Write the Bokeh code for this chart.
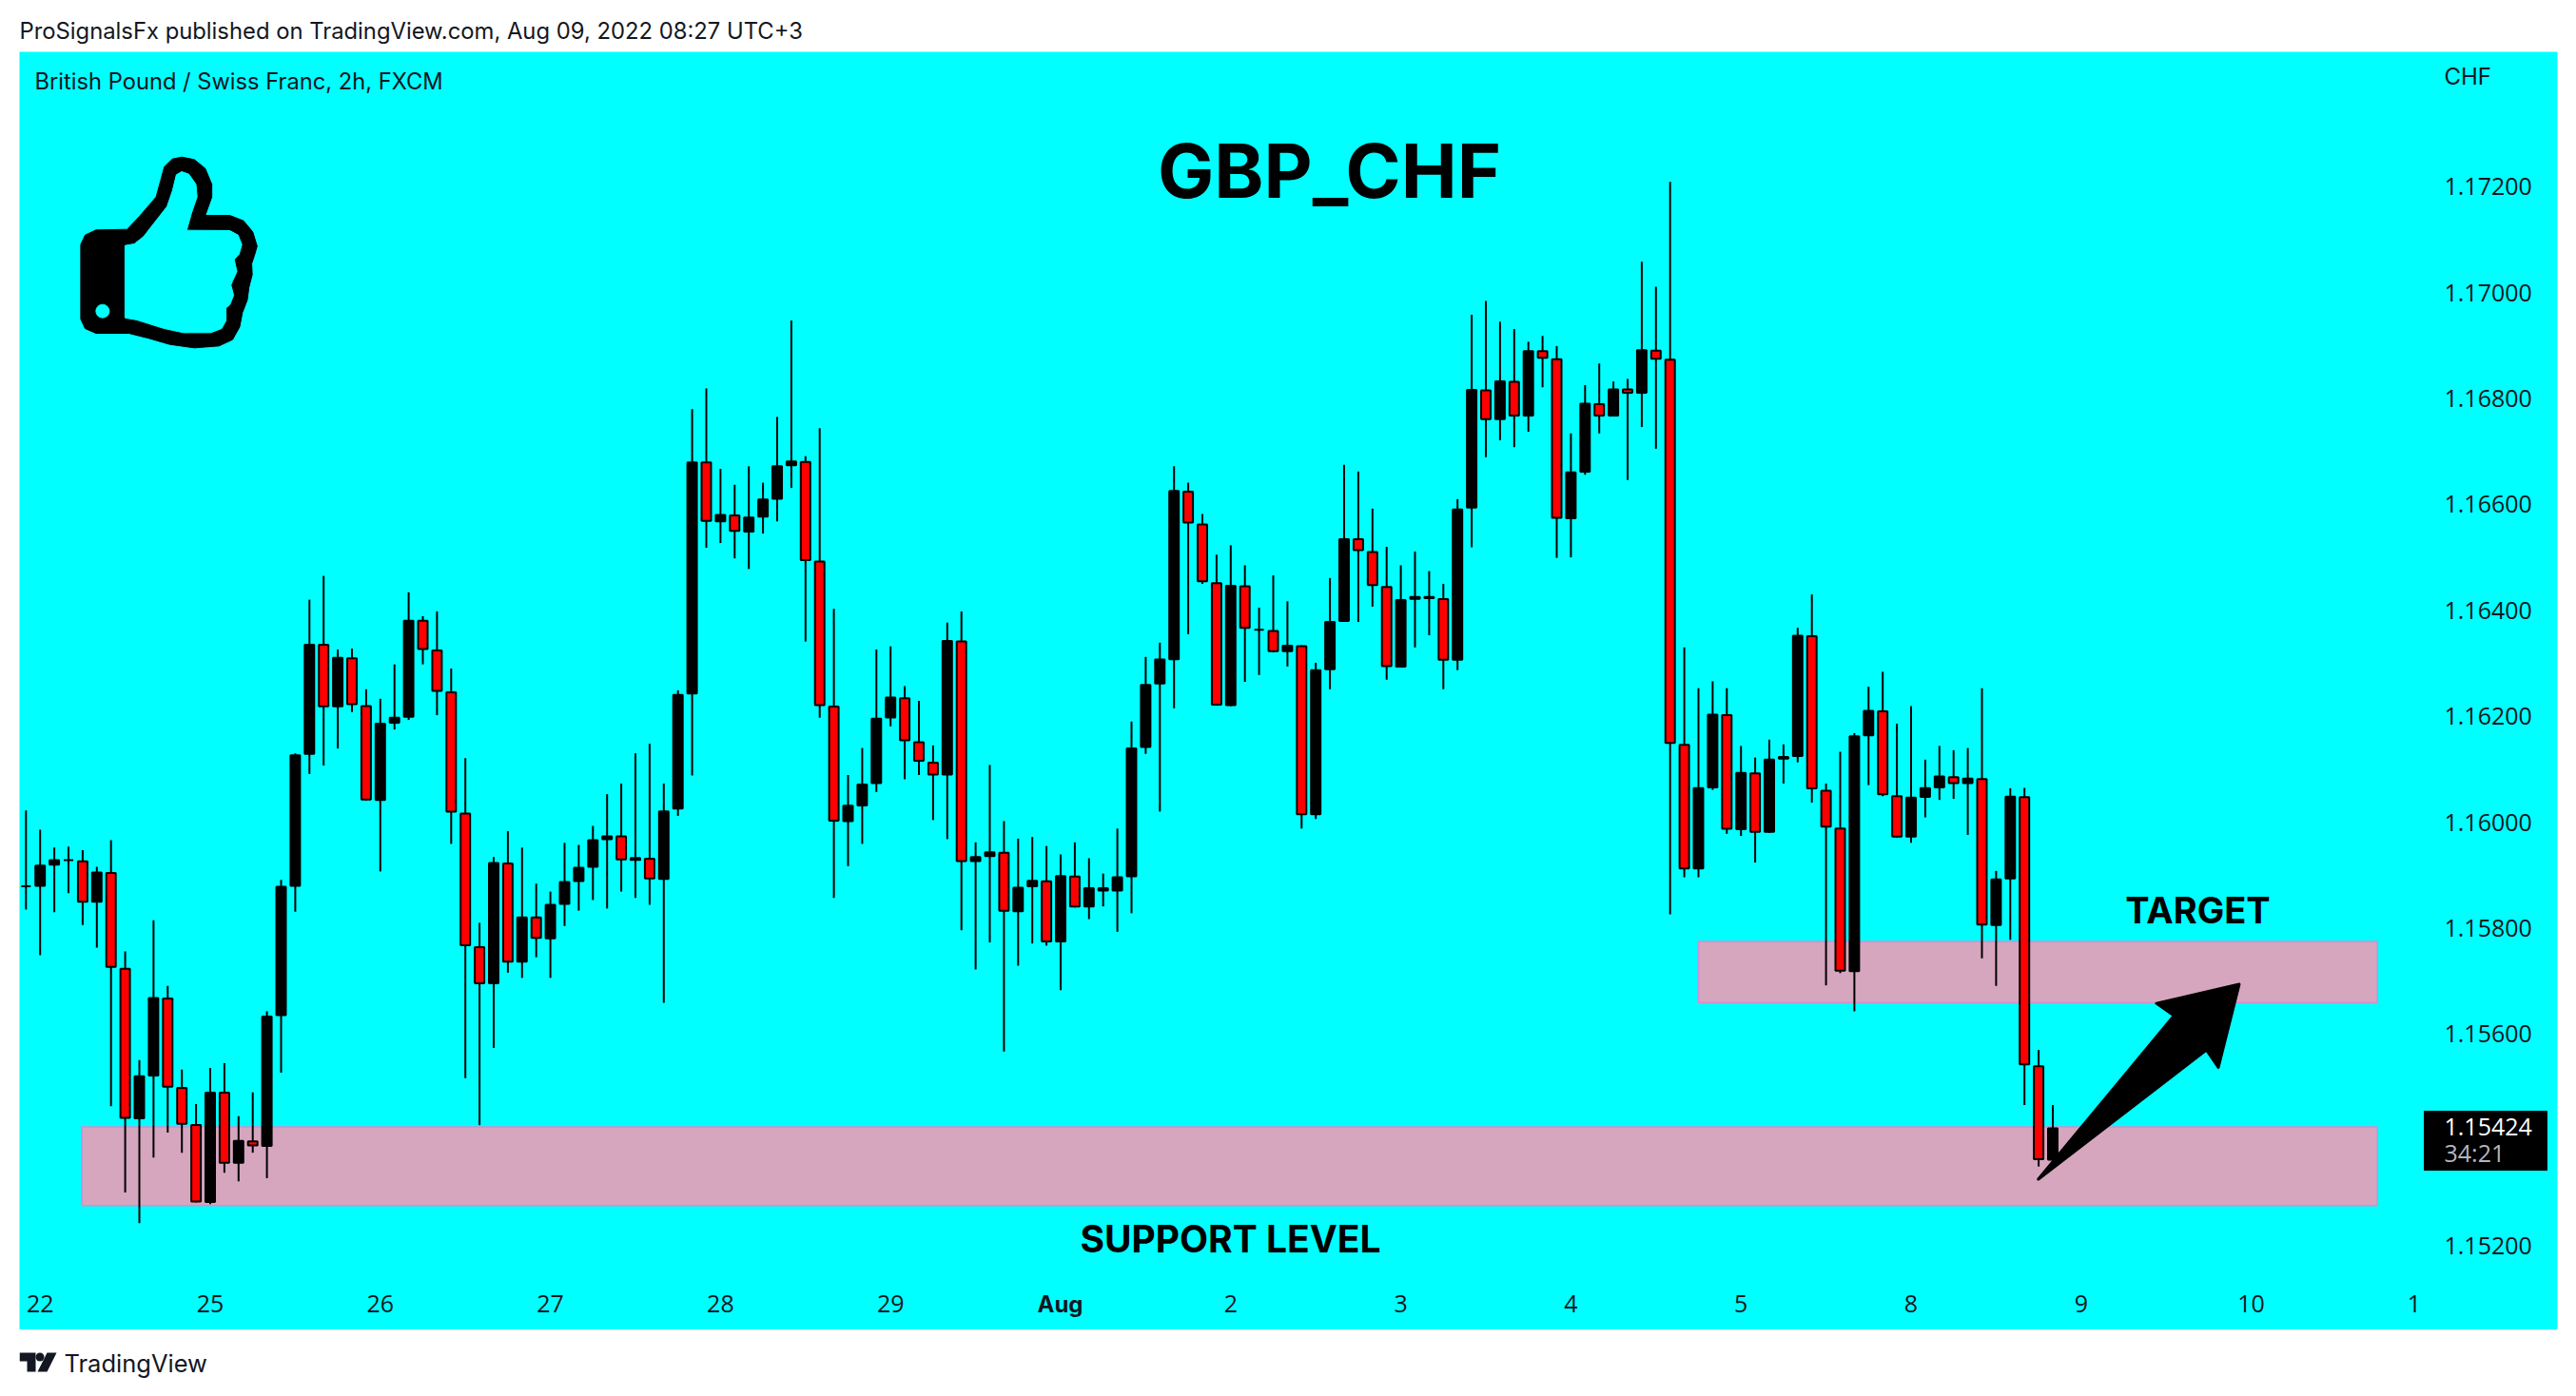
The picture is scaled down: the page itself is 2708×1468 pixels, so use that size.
from bokeh.plotting import figure
from bokeh.models import Range1d, FixedTicker, Label
from bokeh.layouts import column
from bokeh.embed import file_html
from bokeh.resources import INLINE
import numpy as np

highs = [1.16022,1.15986,1.15952,1.15954,1.15947,1.15916,1.15966,1.15756,1.15551,1.15815,1.15691,1.15533,
1.15468,1.15536,1.15545,1.15445,1.15490,1.15643,1.15891,1.16130,1.16420,1.16465,1.16326,1.16328,
1.16251,1.16233,1.16298,1.16434,1.16389,1.16398,1.16290,1.16121,1.15810,1.15934,1.15983,1.15952,
1.15884,1.15869,1.15961,1.15957,1.15993,1.16053,1.16073,1.16130,1.16148,1.16073,1.16249,1.16780,
1.16819,1.16667,1.16637,1.16672,1.16641,1.16765,1.16947,1.16691,1.16744,1.16403,1.16089,1.16140,
1.16326,1.16332,1.16257,1.16229,1.16145,1.16377,1.16398,1.15962,1.16108,1.16002,1.15969,1.15972,
1.15955,1.15939,1.15962,1.15932,1.15903,1.15988,1.16190,1.16312,1.16339,1.16672,1.16641,1.16582,
1.16505,1.16523,1.16485,1.16405,1.16466,1.16417,1.16334,1.16301,1.16461,1.16675,1.16662,1.16592,
1.16520,1.16485,1.16511,1.16474,1.16450,1.16610,1.16958,1.16984,1.16945,1.16931,1.16907,1.16918,
1.16899,1.16734,1.16825,1.16866,1.16832,1.16837,1.17058,1.17011,1.17209,1.16330,1.16253,1.16266,
1.16253,1.16144,1.16122,1.16156,1.16147,1.16367,1.16430,1.16073,1.16133,1.16168,1.16256,1.16284,
1.16186,1.16219,1.16118,1.16144,1.16136,1.16140,1.16253,1.15908,1.16064,1.16065,1.15570,1.15466]

lows = [1.15835,1.15749,1.15830,1.15866,1.15806,1.15763,1.15464,1.15301,1.15243,1.15367,1.15414,1.15376,
1.15282,1.15279,1.15338,1.15322,1.15376,1.15328,1.15527,1.15831,1.16091,1.16107,1.16139,1.16208,
1.16041,1.15907,1.16175,1.16193,1.16298,1.16202,1.15959,1.15517,1.15428,1.15574,1.15716,1.15706,
1.15745,1.15706,1.15804,1.15833,1.15853,1.15837,1.15869,1.15857,1.15844,1.15659,1.16012,1.16088,
1.16518,1.16527,1.16498,1.16478,1.16545,1.16568,1.16631,1.16341,1.16197,1.15857,1.15917,1.15959,
1.16057,1.16181,1.16081,1.16089,1.16004,1.15968,1.15796,1.15722,1.15773,1.15567,1.15729,1.15771,
1.15767,1.15683,1.15839,1.15817,1.15841,1.15793,1.15828,1.16129,1.16020,1.16215,1.16355,1.16450,
1.16220,1.16219,1.16265,1.16278,1.16321,1.16294,1.15988,1.16006,1.16251,1.16378,1.16378,1.16407,
1.16269,1.16292,1.16330,1.16353,1.16251,1.16287,1.16519,1.16689,1.16721,1.16708,1.16737,1.16821,
1.16499,1.16500,1.16656,1.16734,1.16766,1.16646,1.16746,1.16705,1.15826,1.15896,1.15896,1.16061,
1.15978,1.15974,1.15924,1.15980,1.16073,1.16113,1.16037,1.15692,1.15715,1.15643,1.16070,1.16049,
1.15971,1.15961,1.16009,1.16042,1.16044,1.15976,1.15743,1.15691,1.15778,1.15466,1.15350,1.15361]

opens = [1.15881,1.15878,1.15918,1.15927,1.15928,1.15848,1.15906,1.15725,1.15439,1.15520,1.15669,1.15500,
1.15430,1.15281,1.15491,1.15355,1.15399,1.15387,1.15634,1.15878,1.16127,1.16337,1.16217,1.16311,
1.16221,1.16040,1.16186,1.16197,1.16382,1.16326,1.16247,1.16018,1.15766,1.15694,1.15924,1.15735,
1.15822,1.15779,1.15844,1.15887,1.15914,1.15966,1.15975,1.15927,1.15933,1.15891,1.16024,1.16241,
1.16681,1.16566,1.16581,1.16547,1.16575,1.16609,1.16672,1.16682,1.16494,1.16220,1.16000,1.16030,
1.16072,1.16196,1.16236,1.16153,1.16114,1.16088,1.16343,1.15925,1.15934,1.15944,1.15830,1.15877,
1.15890,1.15773,1.15899,1.15839,1.15869,1.15869,1.15896,1.16140,1.16260,1.16306,1.16626,1.16564,
1.16453,1.16219,1.16447,1.16362,1.16363,1.16321,1.16334,1.16013,1.16287,1.16378,1.16536,1.16512,
1.16446,1.16292,1.16420,1.16421,1.16423,1.16305,1.16592,1.16817,1.16759,1.16833,1.16766,1.16891,
1.16876,1.16572,1.16660,1.16791,1.16766,1.16819,1.16809,1.16892,1.16875,1.16148,1.15911,1.16064,
1.16204,1.15985,1.16094,1.15980,1.16118,1.16123,1.16353,1.16061,1.15990,1.15717,1.16162,1.16211,
1.16051,1.15971,1.16046,1.16064,1.16087,1.16072,1.16083,1.15804,1.15892,1.16049,1.15541,1.15361]

closes = [1.15878,1.15920,1.15930,1.15930,1.15848,1.15907,1.15725,1.15440,1.15522,1.15670,1.15499,1.15429,
1.15282,1.15491,1.15355,1.15400,1.15388,1.15635,1.15880,1.16128,1.16337,1.16217,1.16312,1.16221,
1.16041,1.16188,1.16199,1.16382,1.16325,1.16246,1.16018,1.15766,1.15694,1.15925,1.15735,1.15822,
1.15780,1.15846,1.15889,1.15916,1.15968,1.15975,1.15928,1.15934,1.15892,1.16022,1.16242,1.16681,
1.16567,1.16582,1.16548,1.16577,1.16611,1.16674,1.16683,1.16493,1.16219,1.16001,1.16033,1.16073,
1.16197,1.16237,1.16153,1.16114,1.16088,1.16344,1.15925,1.15936,1.15945,1.15831,1.15878,1.15891,
1.15773,1.15900,1.15839,1.15877,1.15877,1.15898,1.16141,1.16261,1.16309,1.16627,1.16564,1.16453,
1.16220,1.16448,1.16365,1.16365,1.16321,1.16335,1.16013,1.16289,1.16380,1.16536,1.16512,1.16446,
1.16293,1.16421,1.16427,1.16427,1.16305,1.16592,1.16818,1.16759,1.16834,1.16766,1.16891,1.16875,
1.16573,1.16662,1.16792,1.16766,1.16819,1.16809,1.16893,1.16873,1.16148,1.15911,1.16066,1.16205,
1.15986,1.16095,1.15980,1.16120,1.16125,1.16354,1.16062,1.15990,1.15718,1.16164,1.16212,1.16051,
1.15971,1.16048,1.16066,1.16088,1.16072,1.16084,1.15805,1.15894,1.16050,1.15541,1.15362,1.15424]

price_ticks = [1.152, 1.156, 1.158, 1.160, 1.162, 1.164, 1.166, 1.168, 1.170, 1.172]
day_positions = [1, 13, 25, 37, 49, 61, 85, 97, 109, 121, 133, 145, 157, 168.5]
day_labels = ["22", "25", "26", "27", "28", "29", "2", "3", "4", "5", "8", "9", "10", "1"]
zone_left = [3.95, 118.0]
zone_right = [165.9, 165.9]
zone_top = [1.15425, 1.15775]
zone_bottom = [1.15276, 1.15659]
arrow_bar = [141.98, 151.55, 150.31, 156.15, 154.68, 153.84]
arrow_price = [1.15326, 1.15635, 1.15658, 1.15694, 1.15537, 1.15570]
last_price = 1.15424

# pixel mapping of the reference, used only to place decoration and text
def bx(px):
    return (px - 26.8) / 14.9
def py(y):
    return 1.172 - (y - 195.7) / 55700.0

TXT = "#131722"
AXFONT = "Open Sans"
AXSIZE = "25px"

p = figure(width=2700, height=1344, output_backend="svg", toolbar_location=None,
           x_range=Range1d(bx(20), bx(2688)), y_range=Range1d(py(1398), py(54)),
           y_axis_location="right", x_axis_location="below",
           min_border_left=20, min_border_right=12, min_border_top=0, min_border_bottom=0,
           background_fill_color="#00FFFF", border_fill_color="white", outline_line_color=None)
p.grid.visible = False

ax = p.yaxis[0]
ax.fixed_location = bx(2569)
ax.ticker = FixedTicker(ticks=price_ticks)
ax.major_label_overrides = {t: f"{t:.5f}" for t in price_ticks}
ax.axis_line_color = None
ax.major_tick_line_color = None
ax.minor_tick_line_color = None
ax.major_tick_in = 0
ax.major_tick_out = 0
ax.major_label_standoff = 0
ax.major_label_text_font = AXFONT
ax.major_label_text_font_size = AXSIZE
ax.major_label_text_color = TXT

ax = p.xaxis[0]
ax.fixed_location = py(1359)
ax.ticker = FixedTicker(ticks=day_positions)
ax.major_label_overrides = dict(zip(day_positions, day_labels))
ax.axis_line_color = None
ax.major_tick_line_color = None
ax.minor_tick_line_color = None
ax.major_tick_in = 0
ax.major_tick_out = 0
ax.major_label_standoff = 2
ax.major_label_text_font = AXFONT
ax.major_label_text_font_size = AXSIZE
ax.major_label_text_color = TXT

# zones
p.quad(left=zone_left, right=zone_right, top=zone_top, bottom=zone_bottom,
       fill_color="#D6A5BE", line_color="#CF8FD2", line_width=1.5)

# candles
idx = np.arange(len(opens))
o = np.array(opens); c = np.array(closes)
stroke = 1 / 55700.0
top = np.maximum(o, c) - stroke
bot = np.minimum(o, c) + stroke
bot = np.minimum(bot, top)
down = c < o
p.segment(x0=idx, y0=lows, x1=idx, y1=highs, line_color="black", line_width=2)
p.vbar(x=idx[~down], top=top[~down], bottom=bot[~down], width=0.67,
       fill_color="black", line_color="black", line_width=2)
p.vbar(x=idx[down], top=top[down], bottom=bot[down], width=0.67,
       fill_color="#FF0000", line_color="black", line_width=2)

# arrow
p.patch(arrow_bar, arrow_price, fill_color="black", line_color="black", line_width=3, line_join="round")

# thumbs-up icon
outer = [(147,770),(155,740),(175,724),(232,722),(255,680),(285,620),(293,570),(300,525),(315,500),(332,494),
         (355,502),(375,530),(387,580),(387,620),(375,678),(420,678),(445,695),(462,730),(470,775),(465,805),
         (460,830),(461,865),(455,905),(452,945),(443,985),(438,1030),(425,1070),(400,1090),(355,1096),
         (310,1085),(270,1065),(235,1050),(175,1050),(155,1035),(147,1005)]
inner = [(228,773),(245,768),(262,745),(280,705),(305,650),(315,600),(322,550),(332,540),(345,548),(358,580),
         (360,620),(350,670),(341,725),(420,726),(435,740),(442,770),(437,800),(428,817),(433,855),(425,885),
         (422,898),(427,930),(420,960),(413,970),(413,1010),(405,1035),(385,1048),(335,1048),(300,1035),
         (250,1008),(228,1001)]
def icon(pts):
    return [bx(a / 1.742) for a, _ in pts], [py(b / 3.0) for _, b in pts]
xs, ys = icon(outer)
p.patch(xs, ys, fill_color="black", line_color="black", line_width=1)
xs, ys = icon(inner)
p.patch(xs, ys, fill_color="#00FFFF", line_color="#00FFFF", line_width=1)
p.scatter([bx(187 / 1.742)], [py(980 / 3.0)], size=14, marker="circle", fill_color="#00FFFF", line_color="#00FFFF")

# last price box
p.quad(left=[bx(2548)], right=[bx(2677)], top=[py(1168)], bottom=[py(1230)], fill_color="black", line_color="black")

def label(text, xp, yp, size, font="Inter", style="normal", color=TXT, align="left"):
    p.add_layout(Label(x=bx(xp), y=py(yp), text=text, text_font=font, text_font_size=f"{size}px",
                       text_font_style=style, text_color=color, text_align=align, text_baseline="middle"))

label("British Pound / Swiss Franc, 2h, FXCM", 36, 85, 23.7)
label("CHF", 2569, 80, 24)
label("GBP_CHF", 1397, 178, 79, style="bold", color="black", align="center")
label("SUPPORT LEVEL", 1293, 1302, 39, style="bold", color="black", align="center")
label("TARGET", 2310, 956, 38, style="bold", color="black", align="center")
label("Aug", 1114, 1371, 24, style="bold", align="center")
label(f"{last_price:.5f}", 2569, 1184, 25, font=AXFONT, color="white")
label("34:21", 2569, 1211, 25, font=AXFONT, color="#B2B5BE")

# header strip: the column aligns its frames, so its x range spans the same frame as the chart
header = figure(width=2700, height=54, output_backend="svg", toolbar_location=None,
                x_range=Range1d(20, 2688), y_range=Range1d(54, 0), x_axis_type=None, y_axis_type=None,
                min_border=0, background_fill_color="white", border_fill_color="white", outline_line_color=None)
header.grid.visible = False
header.add_layout(Label(x=20, y=32, text="ProSignalsFx published on TradingView.com, Aug 09, 2022 08:27 UTC+3",
                        text_font="Inter", text_font_size="23.8px", text_color=TXT, text_baseline="middle"))

# footer strip
footer = figure(width=2700, height=62, output_backend="svg", toolbar_location=None,
                x_range=Range1d(20, 2688), y_range=Range1d(1460, 1398), x_axis_type=None, y_axis_type=None,
                min_border=0, background_fill_color="white", border_fill_color="white", outline_line_color=None)
footer.grid.visible = False
footer.add_layout(Label(x=67, y=1433, text="TradingView", text_font="Inter", text_font_size="25.5px",
                        text_color=TXT, text_baseline="middle"))
footer.patch([20, 37, 37, 28, 28, 20], [1422, 1422, 1442, 1442, 1431, 1431], fill_color=TXT, line_color=None)
footer.scatter([41.5], [1426.5], size=9, marker="circle", fill_color=TXT, line_color=None)
footer.patch([49, 59, 49, 39], [1422, 1422, 1442, 1442], fill_color=TXT, line_color=None)

open("out.html", "w").write(file_html(column(header, p, footer, spacing=0), INLINE))
